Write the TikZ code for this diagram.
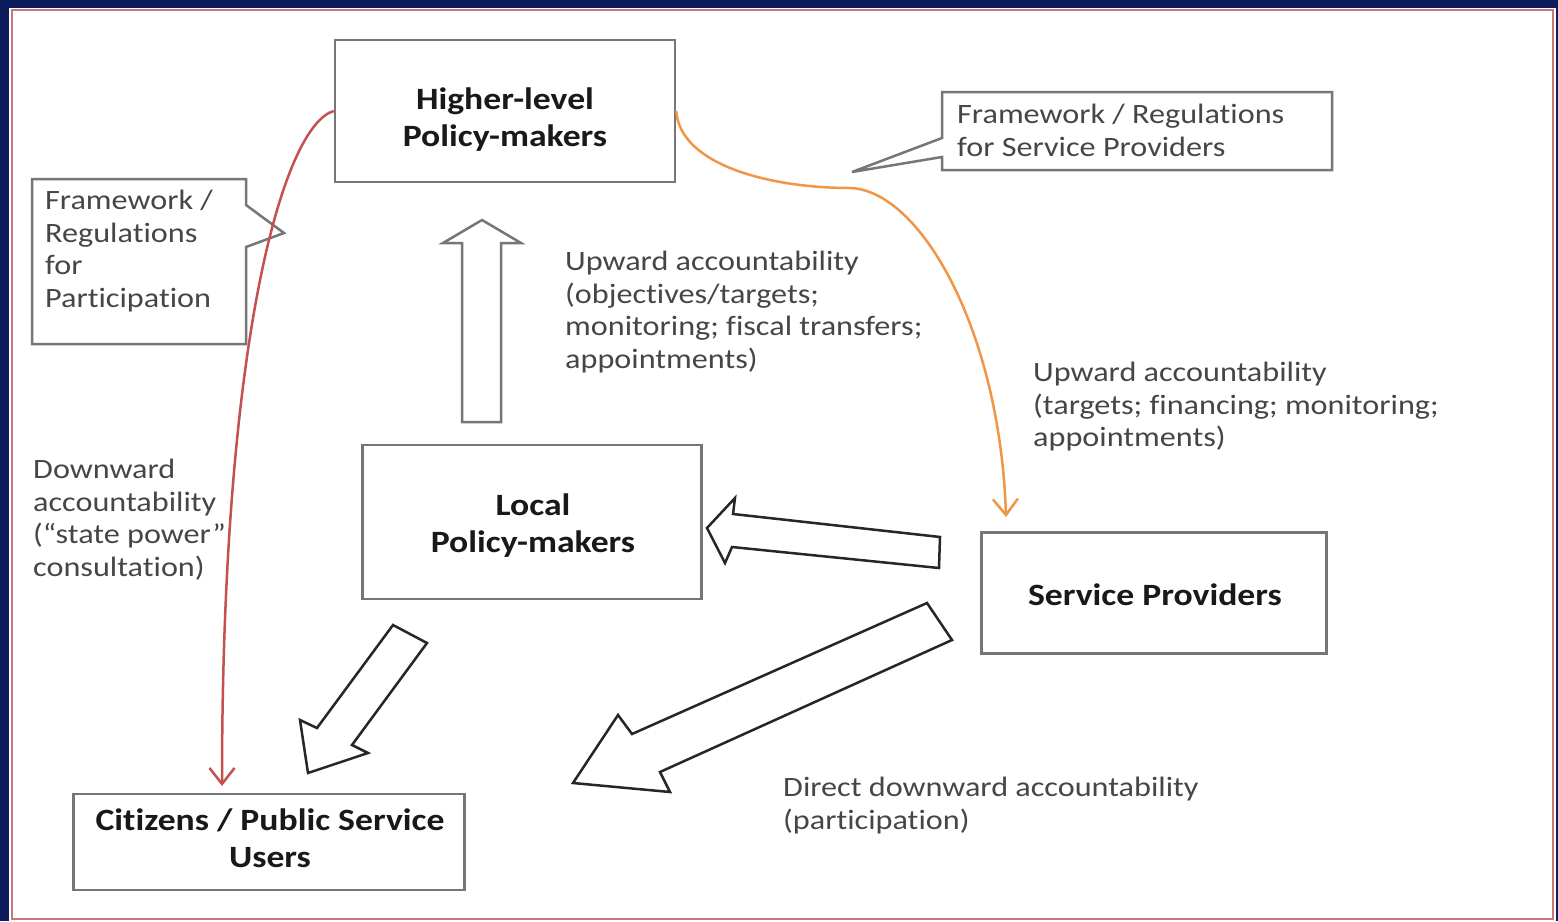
\documentclass[tikz,border=0pt]{standalone}
\usepackage{fontspec}
\setmainfont{Carlito}[FakeStretch=1.15, Ligatures=CommonOff]
\usepackage{xcolor}
\usepackage{tikz}
\usetikzlibrary{arrows.meta}
\usetikzlibrary{positioning}

\definecolor{navybg}{RGB}{12,28,92}
\definecolor{framered}{RGB}{200,120,125}
\definecolor{boxgray}{RGB}{118,118,118}
\definecolor{textgray}{RGB}{70,70,70}
\definecolor{curvered}{RGB}{196,80,80}
\definecolor{curveorange}{RGB}{240,150,70}

\begin{document}
\begin{tikzpicture}[
	x=1pt, y=-1pt,
	line join=miter
]
\tikzset{
    mybox/.style = {rectangle, draw=boxgray, line width=2.5pt, fill=white},
    boxtext/.style = {align=center, inner sep=0pt, font=\fontsize{31}{37}\selectfont\bfseries, text=black!90},
    mylabel/.style = {anchor=north west, align=left, inner sep=0pt, font=\fontsize{28}{32.5}\selectfont, text=textgray},
    mycallout/.style = {draw=boxgray, line width=2.5pt, fill=white},
    myblock/.style = {draw=black!85, line width=2.5pt, fill=white},
    mycurve/.style = {line width=2.5pt, -{Straight Barb[length=16pt,width=25pt]}}
}
\useasboundingbox (0,0) rectangle (1558,921);
\fill[navybg] (0,0) rectangle (1558,921);
\fill[white] (9,8) rectangle (1556,921);
\draw[framered, line width=1.5pt] (12,10) rectangle (1553,919);

% boxes
\node[mybox, minimum width=340pt, minimum height=142pt] (hl) at (505,111) {};
\node[boxtext] (hltext) at (505,120) {Higher-level\\Policy-makers};
\node[mybox, minimum width=339pt, minimum height=154pt] (lp) at (532,522) {};
\node[boxtext] (lptext) at (533,526) {Local\\Policy-makers};
\node[mybox, minimum width=345pt, minimum height=121pt] (sp) at (1154,593) {};
\node[boxtext] (sptext) at (1155,595) {Service Providers};
\node[mybox, minimum width=391pt, minimum height=96pt] (cit) at (269,842) {};
\node[boxtext] (cittext) at (270,838) {Citizens / Public Service\\Users};

% callouts
\draw[mycallout] (32,179) -- (246,179) -- (246,205) -- (284,233) -- (246,247) -- (246,344) -- (32,344) -- cycle;
\node[mylabel] (fwpart) at (45,190) {Framework /\\Regulations\\for\\Participation};
\draw[mycallout] (942,92) -- (1332,92) -- (1332,170) -- (942,170) -- (942,157) -- (852,172) -- (942,138) -- cycle;
\node[mylabel] (fwsp) at (957,104) {Framework / Regulations\\for Service Providers};

% labels
\node[mylabel] (upone) at (565,251) {Upward accountability\\(objectives/targets;\\monitoring; fiscal transfers;\\appointments)};
\node[mylabel] (uptwo) at (1033,362) {Upward accountability\\(targets; financing; monitoring;\\appointments)};
\node[mylabel] (down) at (33,459) {Downward\\accountability\\(“state power”\\consultation)};
\node[mylabel] (direct) at (783,777) {Direct downward accountability\\(participation)};

% block arrows
\draw[myblock, draw=boxgray] (462,422) -- (462,243) -- (443,243) -- (482,220) -- (521,243) -- (501,243) -- (501,422) -- cycle;
\draw[myblock] (707,528) -- (735,498) -- (733,514) -- (940,537) -- (939,568) -- (732,547) -- (725,563) -- cycle;
\draw[myblock] (393,625) -- (427,643) -- (352,745) -- (368,753) -- (308,773) -- (300,720) -- (317,728) -- cycle;
\draw[myblock] (927,603) -- (952,640) -- (660,772) -- (670,792) -- (573,783) -- (618,715) -- (632,734) -- cycle;

% curved connectors
\coordinate (redend) at (222,786);
\coordinate (orangemid) at (850,188);
\coordinate (orangeend) at (1006,517);
\draw[mycurve, curvered] (hl.west) .. controls (285,125) and (222,330) .. (redend);
\draw[mycurve, curveorange] (hl.east) .. controls (680,165) and (770,188) .. (orangemid)
    .. controls (920,190) and (1000,330) .. (orangeend);
\end{tikzpicture}
\end{document}
